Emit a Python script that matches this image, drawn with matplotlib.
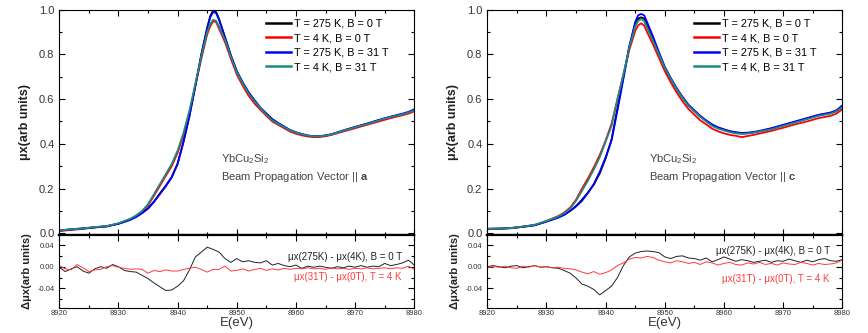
import matplotlib
matplotlib.use("Agg")
import matplotlib.pyplot as plt
from matplotlib.ticker import MultipleLocator

plt.rcParams['font.family'] = ['Liberation Sans', 'DejaVu Sans']
plt.rcParams['mathtext.fontset'] = 'custom'
plt.rcParams['mathtext.rm'] = 'Liberation Sans'
plt.rcParams['mathtext.bf'] = 'Liberation Sans:bold'

# ---- data ----
E_top = [8920, 8922, 8924, 8926, 8928, 8930, 8932, 8933, 8934, 8935,
         8936, 8937, 8938, 8939, 8940, 8941, 8942, 8943, 8944, 8945,
         8945.5, 8946, 8946.5, 8947, 8948, 8949, 8950, 8951, 8952, 8953,
         8954, 8955, 8956, 8957, 8958, 8959, 8960, 8961, 8962, 8963,
         8964, 8965, 8966, 8968, 8970, 8972, 8974, 8976, 8978, 8979, 8980]

# panel a  (beam || a)
a_275K_0T = [.013, .018, .022, .027, .032, .043, .061, .075, .092, .112,
             .142, .178, .213, .252, .312, .41, .525, .66, .80, .92,
             .97, .997, .99, .958, .878, .795, .725, .673, .63, .594,
             .56, .535, .51, .492, .476, .46, .45, .442, .436, .432,
             .433, .437, .442, .459, .475, .49, .506, .52, .533, .54, .55]
a_4K_0T = [.010, .015, .020, .027, .030, .044, .064, .078, .098, .125,
           .168, .212, .257, .30, .36, .44, .54, .66, .78, .89,
           .925, .948, .945, .915, .855, .78, .71, .66, .615, .58,
           .552, .525, .50, .485, .47, .455, .445, .438, .433, .43,
           .431, .434, .44, .455, .47, .485, .50, .515, .528, .535, .545]
a_275K_31T = [.012, .017, .021, .026, .031, .042, .060, .073, .09, .11,
              .14, .175, .21, .25, .31, .41, .525, .66, .795, .915,
              .965, .99, .985, .955, .875, .795, .725, .675, .63, .595,
              .562, .535, .51, .493, .478, .462, .452, .444, .438, .434,
              .435, .438, .443, .46, .476, .49, .507, .522, .535, .543, .555]
a_4K_31T = [.012, .018, .022, .028, .032, .045, .065, .08, .10, .13,
            .175, .22, .265, .31, .37, .45, .55, .67, .79, .90,
            .935, .955, .95, .925, .865, .79, .72, .67, .625, .59,
            .56, .53, .505, .49, .475, .46, .45, .443, .437, .433,
            .434, .437, .442, .458, .475, .488, .505, .52, .532, .54, .55]

# panel c  (beam || c)
c_275K_0T = [.02, .021, .023, .029, .036, .053, .072, .085, .10, .122,
             .15, .182, .218, .268, .335, .42, .56, .70, .835, .935,
             .96, .966, .96, .935, .875, .805, .74, .69, .645, .607,
             .572, .547, .522, .502, .485, .472, .463, .455, .45, .447,
             .448, .451, .456, .468, .483, .498, .513, .528, .538, .547, .565]
c_4K_0T = [.018, .02, .024, .03, .037, .055, .077, .093, .115, .15,
           .20, .245, .295, .35, .415, .49, .60, .71, .82, .905,
           .93, .939, .93, .90, .845, .785, .725, .675, .63, .59,
           .556, .53, .505, .487, .468, .456, .447, .44, .436, .43,
           .435, .44, .446, .458, .472, .487, .50, .515, .525, .535, .555]
c_275K_31T = [.02, .021, .023, .029, .036, .052, .07, .082, .10, .12,
              .145, .18, .22, .275, .34, .415, .55, .69, .835, .945,
              .975, .981, .975, .945, .88, .81, .745, .695, .65, .61,
              .575, .55, .525, .505, .487, .474, .465, .457, .452, .449,
              .45, .453, .458, .47, .485, .50, .515, .53, .54, .55, .572]
c_4K_31T = [.02, .021, .023, .03, .038, .055, .075, .09, .11, .145,
            .19, .235, .285, .34, .41, .48, .60, .71, .83, .925,
            .95, .958, .95, .92, .86, .80, .74, .69, .645, .605,
            .57, .545, .52, .50, .48, .468, .46, .452, .447, .444,
            .446, .45, .455, .465, .48, .495, .51, .525, .535, .545, .565]

E_diff = list(range(8920, 8981))

a_diff_T = [-.001, -.009, -.004, .000, -.008, -.012, -.004, .000, -.003, .004,
            .000, -.007, -.009, -.010, -.016, -.022, -.030, -.037, -.044, -.043,
            -.036, -.026, -.006, .018, .027, .036, .032, .027, .015, .008,
            .015, .009, .011, .008, .007, .011, .003, .006, .002, .000,
            .003, -.003, .001, -.001, .001, -.001, -.003, .000, -.002, .001,
            -.001, .002, -.001, .001, .000, .006, .002, .004, .007, .012, .003]
a_diff_B = [.002, -.004, -.006, .004, -.002, -.009, -.006, -.005, .000, .002,
            -.001, -.003, -.005, -.004, -.005, -.012, -.007, -.009, -.006, -.008,
            -.008, -.005, -.003, -.001, -.005, -.010, -.005, -.005, .001, -.008,
            -.007, -.004, -.008, -.005, -.003, -.007, -.004, -.006, -.003, -.005,
            -.003, -.004, -.002, -.004, -.003, -.005, -.002, -.004, -.003, -.005,
            -.003, -.004, -.002, -.004, -.003, -.002, -.004, -.002, -.003, .001, -.005]
c_diff_T = [.000, .002, .000, -.002, .001, .002, -.002, .000, .002, -.001,
            .000, -.002, -.003, -.007, -.012, -.021, -.032, -.036, -.042, -.052,
            -.044, -.036, -.020, .002, .018, .025, .028, .029, .028, .026,
            .018, .015, .019, .020, .016, .015, .012, .016, .009, .013,
            .018, .014, .010, .013, .011, .008, .010, .012, .008, .011,
            .010, .014, .011, .008, .012, .009, .013, .015, .011, .010, .013]
c_diff_B = [-.002, .000, -.001, .001, -.002, -.003, .001, -.001, .002, -.001,
            .000, -.002, -.001, -.003, -.004, -.006, -.010, -.013, -.009, -.014,
            -.011, -.006, .002, .007, .014, .017, .016, .019, .017, .012,
            .009, .007, .011, .009, .006, .008, .004, .009, .007, .003,
            .006, .008, .004, .003, .007, .005, .008, .004, .006, .003,
            .007, .005, .004, .008, .006, .003, .006, .004, .005, .007, .012]

labels = ['T = 275 K, B = 0 T', 'T = 4 K, B = 0 T',
          'T = 275 K, B = 31 T', 'T = 4 K, B = 31 T']
colors = ['#000000', '#ff0000', '#0000ff', '#1f8a80']

panels = [
    {'x0': 0.0683, 'curves': [a_275K_0T, a_4K_0T, a_275K_31T, a_4K_31T],
     'dT': a_diff_T, 'dB': a_diff_B, 'vec': 'a', 'ty': (0.70, 0.42)},
    {'x0': 0.5614, 'curves': [c_275K_0T, c_4K_0T, c_275K_31T, c_4K_31T],
     'dT': c_diff_T, 'dB': c_diff_B, 'vec': 'c', 'ty': (0.78, 0.40)},
]

fig = plt.figure(figsize=(8.68, 3.33), dpi=100)
W = 0.409
tick_col = '#333333'

for p in panels:
    ax = fig.add_axes([p['x0'], 0.2943, W, 0.6766])
    axd = fig.add_axes([p['x0'], 0.076, W, 0.2183])

    for y, c, lab in zip(p['curves'], colors, labels):
        ax.plot(E_top, y, color=c, lw=1.3, label=lab)
    ax.set_xlim(8920, 8980)
    ax.set_ylim(-0.0076, 1.0)
    ax.yaxis.set_major_locator(MultipleLocator(0.2))
    ax.yaxis.set_minor_locator(MultipleLocator(0.1))
    ax.xaxis.set_major_locator(MultipleLocator(10))
    ax.xaxis.set_minor_locator(MultipleLocator(5))
    ax.tick_params(which='both', direction='in', top=True, right=True,
                   labelbottom=False, labelsize=8, labelcolor=tick_col, width=0.8)
    ax.tick_params(which='major', length=4)
    ax.tick_params(which='minor', length=2.5)
    ax.spines['bottom'].set_linewidth(1.6)
    ax.set_ylabel('μx(arb units)', fontsize=9, fontweight='bold', color='#222222', labelpad=6)
    leg = ax.legend(loc='upper right', bbox_to_anchor=(0.94, 0.98), frameon=False,
                    fontsize=7.8, handlelength=2.3, handletextpad=0.25,
                    labelspacing=0.42, borderaxespad=0.0)
    for h in leg.get_lines():
        h.set_linewidth(1.8)
    ax.text(0.455, 0.325, r'YbCu$_2$Si$_2$', transform=ax.transAxes,
            fontsize=8, color='#444444')
    ax.text(0.455, 0.245, r'Beam Propagation Vector || $\mathbf{' + p['vec'] + '}$',
            transform=ax.transAxes, fontsize=8, color='#444444')

    axd.plot(E_diff, p['dT'], color='#222222', lw=0.7)
    axd.plot(E_diff, p['dB'], color='#ff3b3b', lw=0.7)
    axd.set_xlim(8920, 8980)
    axd.set_ylim(-0.0757, 0.0585)
    axd.yaxis.set_minor_locator(MultipleLocator(0.02))
    axd.xaxis.set_major_locator(MultipleLocator(10))
    axd.xaxis.set_minor_locator(MultipleLocator(5))
    axd.set_yticks([-0.04, 0.0, 0.04])
    axd.set_yticklabels(['-0.04', '0.00', '0.04'])
    axd.tick_params(which='both', direction='in', top=True, right=True,
                    labelcolor=tick_col, width=0.8)
    axd.tick_params(axis='y', labelsize=5.5)
    axd.tick_params(axis='x', labelsize=5.5, pad=2)
    axd.tick_params(which='major', length=4)
    axd.tick_params(which='minor', length=2.5)
    axd.spines['top'].set_linewidth(1.6)
    axd.set_xlabel('E(eV)', fontsize=9.5, color='#333333', labelpad=0)
    axd.set_ylabel('Δμx(arb units)', fontsize=8, fontweight='bold', color='#222222', labelpad=4)
    axd.text(0.965, p['ty'][0], 'μx(275K) - μx(4K), B = 0 T', transform=axd.transAxes,
             ha='right', va='center', fontsize=7, color='#222222')
    axd.text(0.965, p['ty'][1], 'μx(31T) - μx(0T), T = 4 K', transform=axd.transAxes,
             ha='right', va='center', fontsize=7, color='#ff3b3b')

fig.savefig('out.png', dpi=100)
